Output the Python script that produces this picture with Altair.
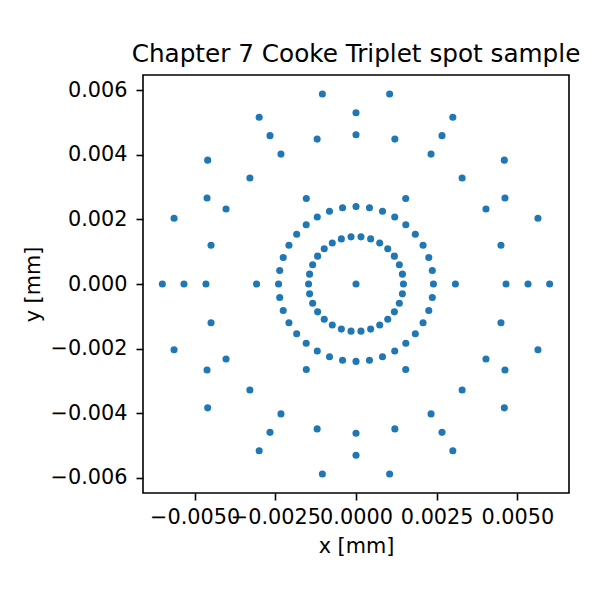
import altair as alt
import pandas as pd

# Spot sample coordinates (mm), ring by ring
center_x = [0.0]
center_y = [0.0]

ring1_x = [0.001470, 0.001438, 0.001343, 0.001189, 0.000984, 0.000735, 0.000454, 0.000154,
           -0.000154, -0.000454, -0.000735, -0.000984, -0.001189, -0.001343, -0.001438, -0.001470,
           -0.001438, -0.001343, -0.001189, -0.000984, -0.000735, -0.000454, -0.000154,
           0.000154, 0.000454, 0.000735, 0.000984, 0.001189, 0.001343, 0.001438]
ring1_y = [0.0, 0.000306, 0.000598, 0.000864, 0.001092, 0.001273, 0.001398, 0.001462,
           0.001462, 0.001398, 0.001273, 0.001092, 0.000864, 0.000598, 0.000306, 0.0,
           -0.000306, -0.000598, -0.000864, -0.001092, -0.001273, -0.001398, -0.001462,
           -0.001462, -0.001398, -0.001273, -0.001092, -0.000864, -0.000598, -0.000306]

ring2_x = [0.002400, 0.002364, 0.002255, 0.002078, 0.001838, 0.001543, 0.001200, 0.000821, 0.000417,
           0.0, -0.000417, -0.000821, -0.001200, -0.001543, -0.001838, -0.002078, -0.002255, -0.002364,
           -0.002400, -0.002364, -0.002255, -0.002078, -0.001838, -0.001543, -0.001200, -0.000821, -0.000417,
           0.0, 0.000417, 0.000821, 0.001200, 0.001543, 0.001838, 0.002078, 0.002255, 0.002364]
ring2_y = [0.0, 0.000417, 0.000821, 0.001200, 0.001543, 0.001838, 0.002078, 0.002255, 0.002364,
           0.002400, 0.002364, 0.002255, 0.002078, 0.001838, 0.001543, 0.001200, 0.000821, 0.000417,
           0.0, -0.000417, -0.000821, -0.001200, -0.001543, -0.001838, -0.002078, -0.002255, -0.002364,
           -0.002400, -0.002364, -0.002255, -0.002078, -0.001838, -0.001543, -0.001200, -0.000821, -0.000417]

ring3_x = [0.003080, 0.001540, -0.001540, -0.003080, -0.001540, 0.001540]
ring3_y = [0.0, 0.002650, 0.002650, 0.0, -0.002650, -0.002650]

ring4_x = [0.004650, 0.004492, 0.004027, 0.003288, 0.002325, 0.001204,
           0.0, -0.001204, -0.002325, -0.003288, -0.004027, -0.004492,
           -0.004650, -0.004492, -0.004027, -0.003288, -0.002325, -0.001204,
           0.0, 0.001204, 0.002325, 0.003288, 0.004027, 0.004492]
ring4_y = [0.0, 0.001204, 0.002325, 0.003288, 0.004027, 0.004492,
           0.004630, 0.004492, 0.004027, 0.003288, 0.002325, 0.001204,
           0.0, -0.001204, -0.002325, -0.003288, -0.004027, -0.004492,
           -0.004630, -0.004492, -0.004027, -0.003288, -0.002325, -0.001204]

ring5_x = [0.005330, 0.004616, 0.002665, 0.0, -0.002665, -0.004616,
           -0.005330, -0.004616, -0.002665, 0.0, 0.002665, 0.004616]
ring5_y = [0.0, 0.002665, 0.004600, 0.005310, 0.004600, 0.002665,
           0.0, -0.002665, -0.004600, -0.005310, -0.004600, -0.002665]

ring6_x = [0.006000, 0.005638, 0.004596, 0.003000, 0.001042, -0.001042, -0.003000, -0.004596, -0.005638,
           -0.006000, -0.005638, -0.004596, -0.003000, -0.001042, 0.001042, 0.003000, 0.004596, 0.005638]
ring6_y = [0.0, 0.002040, 0.003840, 0.005170, 0.005890, 0.005890, 0.005170, 0.003840, 0.002040,
           0.0, -0.002040, -0.003840, -0.005170, -0.005890, -0.005890, -0.005170, -0.003840, -0.002040]

x_ticks = [-0.005, -0.0025, 0.0, 0.0025, 0.005]
y_ticks = [-0.006, -0.004, -0.002, 0.0, 0.002, 0.004, 0.006]

xs = center_x + ring1_x + ring2_x + ring3_x + ring4_x + ring5_x + ring6_x
ys = center_y + ring1_y + ring2_y + ring3_y + ring4_y + ring5_y + ring6_y
df = pd.DataFrame({"x": xs, "y": ys})

FONT = "DejaVu Sans"

chart = alt.Chart(df).mark_circle(size=50, color="#1f77b4", opacity=1).encode(
    x=alt.X("x:Q",
            scale=alt.Scale(domain=[-0.0066, 0.0066], nice=False, zero=False),
            axis=alt.Axis(values=x_ticks, format=".4f", title="x [mm]",
                          labelPadding=7, titleX=213, titleY=59, titleBaseline="alphabetic",
                          titleAlign="center")),
    y=alt.Y("y:Q",
            scale=alt.Scale(domain=[-0.00648, 0.00648], nice=False, zero=False),
            axis=alt.Axis(values=y_ticks, format=".3f", title="y [mm]",
                          labelPadding=9, titleX=-104, titleY=209, titleAngle=-90,
                          titleBaseline="alphabetic", titleAlign="center")),
).properties(
    width=426,
    height=418,
    title=alt.TitleParams(text="Chapter 7 Cooke Triplet spot sample", font=FONT, fontSize=24.7,
                          fontWeight="normal", color="black", anchor="middle", frame="group",
                          baseline="alphabetic", offset=12, dy=24),
    autosize=alt.AutoSizeParams(type="none"),
    padding={"left": 135, "top": 67, "right": 18, "bottom": 75},
).configure_view(
    stroke="black", strokeWidth=1.6
).configure_axis(
    domain=False, grid=False, ticks=True, tickColor="black", tickWidth=1.6, tickSize=7,
    labelFont=FONT, labelFontSize=20.8, labelColor="black",
    titleFont=FONT, titleFontSize=20.8, titleFontWeight="normal", titleColor="black",
    labelOverlap=False, labelFlush=False, labelBound=False,
)

chart.save("out.html", embed_options={"renderer": "svg", "actions": False})
